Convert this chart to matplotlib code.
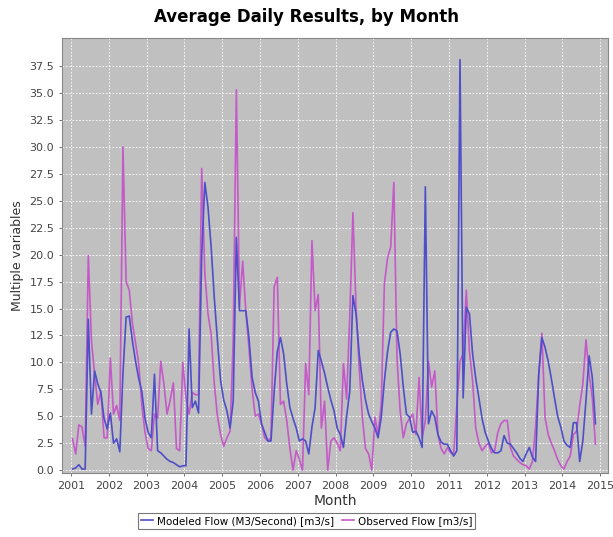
import matplotlib
matplotlib.use('Agg')
import matplotlib.pyplot as plt
import numpy as np

# monthly averages, Jan 2001 .. Nov 2014
modeled = [0.1, 0.2, 0.5, 0.1, 0.1, 14.0, 5.2, 9.2, 8.0, 7.2, 4.8, 3.8,
           5.3, 2.5, 2.9, 1.7, 9.0, 14.2, 14.3, 12.0, 10.1, 8.5, 7.3, 4.8,
           3.5, 3.0, 8.9, 1.8, 1.6, 1.3, 1.0, 0.8, 0.7, 0.5, 0.3, 0.4,
           0.4, 13.1, 5.8, 6.4, 5.3, 20.0, 26.7, 24.4, 20.7, 16.0, 12.0, 8.3,
           6.5, 5.5, 3.9, 6.4, 21.6, 14.8, 14.8, 14.8, 12.3, 8.6, 7.2, 6.4,
           4.3, 3.5, 2.7, 2.7, 7.3, 11.0, 12.3, 10.8, 8.0, 5.8, 4.8, 3.9,
           2.7, 2.9, 2.7, 1.5, 4.0, 5.8, 11.1, 10.1, 9.0, 7.7, 6.5, 5.5,
           3.9, 3.3, 2.1, 5.0, 7.3, 16.2, 14.5, 10.8, 8.3, 6.5, 5.2, 4.5,
           3.9, 3.0, 4.9, 8.3, 11.0, 12.8, 13.1, 12.9, 10.8, 7.7, 5.2, 4.9,
           3.5, 3.6, 3.0, 2.1, 26.3, 4.3, 5.5, 4.9, 3.3, 2.6, 2.4, 2.4,
           1.8, 1.3, 1.8, 38.1, 6.7, 15.1, 14.5, 10.8, 8.5, 6.7, 4.8, 3.5,
           2.7, 2.0, 1.6, 1.6, 1.8, 3.2, 2.5, 2.4, 2.0, 1.6, 1.1, 0.8,
           1.5, 2.1, 1.2, 0.8, 8.9, 12.3, 11.4, 10.1, 8.5, 6.7, 5.0, 4.0,
           2.7, 2.3, 2.1, 4.4, 4.4, 0.8, 2.7, 6.5, 10.6, 8.6, 4.3]

observed = [2.9, 1.5, 4.2, 4.0, 2.2, 19.9, 12.0, 8.9, 6.1, 7.3, 3.0, 3.0,
            10.4, 5.2, 6.0, 4.6, 30.0, 17.5, 16.7, 13.6, 11.8, 9.9, 6.0, 3.5,
            2.0, 1.8, 5.2, 4.8, 10.1, 8.0, 5.2, 6.5, 8.1, 2.0, 1.8, 10.0,
            6.7, 5.2, 7.2, 7.0, 7.0, 28.0, 18.2, 14.5, 12.6, 8.0, 5.0, 3.3,
            2.2, 3.0, 3.6, 12.0, 35.3, 15.2, 19.4, 14.8, 11.4, 7.5, 5.0, 5.2,
            4.3, 3.0, 2.7, 3.0, 17.0, 17.9, 6.1, 6.4, 4.6, 2.0, 0.0, 1.8,
            1.0, 0.0, 9.9, 7.0, 21.3, 14.8, 16.3, 3.9, 6.4, 0.0, 2.7, 3.0,
            2.5, 1.8, 9.9, 6.6, 14.2, 23.9, 15.1, 9.5, 4.9, 2.0, 1.5, 0.0,
            4.9, 3.3, 6.1, 17.3, 19.7, 20.7, 26.7, 10.4, 5.5, 3.0, 4.3, 4.8,
            5.2, 3.3, 8.6, 3.0, 4.6, 10.1, 7.7, 9.2, 3.3, 2.0, 1.5, 2.1,
            1.6, 1.5, 6.0, 10.1, 10.8, 16.7, 11.0, 8.3, 3.9, 2.5, 1.8, 2.2,
            2.5, 1.6, 1.8, 3.5, 4.3, 4.6, 4.6, 2.1, 1.3, 1.0, 0.7, 0.5,
            0.4, 0.1, 0.8, 4.0, 8.9, 12.7, 4.9, 3.3, 2.5, 1.8, 1.0, 0.4,
            0.1, 0.8, 1.3, 3.3, 3.6, 6.0, 8.0, 12.1, 8.9, 6.7, 2.4]

years = list(range(2001, 2016))
yticks = [i * 2.5 for i in range(16)]

x = 2001 + (np.arange(len(modeled)) + 0.5) / 12

fig = plt.figure(figsize=(6.13, 5.37), dpi=100)
ax = fig.add_axes([0.101, 0.119, 0.891, 0.810])
ax.set_facecolor('#c0c0c0')

ax.plot(x, modeled, color='#4e4ec8', lw=1.2, label='Modeled Flow (M3/Second) [m3/s]', zorder=3)
ax.plot(x, observed, color='#c45ac8', lw=1.2, label='Observed Flow [m3/s]', zorder=2)

ax.set_xlim(2000.76, 2015.21)
ax.set_ylim(-0.28, 40.1)
ax.set_xticks(years)
ax.set_xticklabels([str(y) for y in years])
ax.set_yticks(yticks)
ax.set_yticklabels(['%.1f' % v for v in yticks])
ax.grid(True, color='white', linestyle=(0, (2, 2)), linewidth=0.6)
ax.tick_params(labelsize=8, colors='#555555', labelcolor='#444444', length=2, width=0.6)
for s in ax.spines.values():
    s.set_color('#888888')
    s.set_linewidth(0.8)

ax.set_xlabel('Month', fontsize=10, color='#333333', labelpad=2)
ax.set_ylabel('Multiple variables', fontsize=9, color='#333333', labelpad=4)
fig.suptitle('Average Daily Results, by Month', fontsize=12, fontweight='bold', y=0.985)

leg = fig.legend(loc='lower center', bbox_to_anchor=(0.5, 0.005), ncol=2, fontsize=7.5,
                 frameon=True, fancybox=False, handlelength=1.2, handletextpad=0.3,
                 columnspacing=0.8, borderpad=0.3)
leg.get_frame().set_edgecolor('#555555')
leg.get_frame().set_linewidth(0.8)

fig.savefig('out.png', dpi=100)
